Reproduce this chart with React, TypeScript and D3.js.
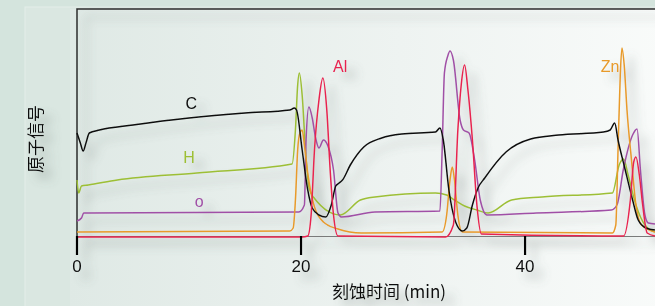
import React, { useRef, useEffect } from "react";
import * as d3 from "d3";

// etch time (min) vs. atom signal (arbitrary units, 0 = baseline)
const cSeries = [
  [0, 103], [0.3, 93], [0.55, 85], [0.8, 93], [1.1, 103], [2, 106], [5, 111], [10, 118], [15, 123],
  [19, 126], [19.4, 128], [19.6, 126], [20.1, 86], [20.6, 46], [21.0, 28], [21.6, 21], [22.2, 19],
  [22.7, 31], [23.1, 50], [23.4, 53], [23.7, 56], [24.4, 71], [25.6, 89], [27.2, 98], [29, 102],
  [32, 104], [32.4, 108], [32.7, 96], [33.2, 46], [33.8, 14], [34.4, 5], [34.8, 8], [35.3, 31],
  [35.8, 48], [36.4, 58], [38.3, 84], [40.5, 97], [43, 101], [47, 104], [47.6, 106], [48.0, 113],
  [48.3, 96], [48.9, 68], [49.6, 36], [50.1, 16], [50.8, 8], [51.6, 6],
];
const hSeries = [
  [0, 56], [0.15, 43], [0.4, 50], [1.0, 51], [3.6, 56], [10.7, 63], [19.2, 72], [19.5, 106],
  [19.7, 151], [19.85, 163], [20.1, 141], [20.4, 86], [20.7, 49], [21.1, 39], [23.5, 21], [25.3, 36],
  [26.6, 39], [32, 43], [33, 41], [33.7, 36], [34.6, 30], [35.7, 26], [36.7, 23], [38.8, 36],
  [41.5, 39], [47.8, 43], [48.4, 71], [48.8, 77], [49.2, 61], [49.9, 31], [50.7, 11], [51.6, 4],
];
const oSeries = [
  [0, 15], [0.4, 18], [0.6, 23], [1, 23], [19.8, 24], [20.3, 31], [20.45, 96], [20.7, 129],
  [21.0, 118], [21.3, 98], [21.6, 88], [22.0, 96], [22.4, 90], [22.9, 66], [23.3, 23], [23.6, 19],
  [26.6, 24], [32.4, 25], [32.6, 86], [32.8, 163], [33.1, 180], [33.3, 185], [33.6, 176], [34.2, 116],
  [34.5, 106], [35.0, 103], [35.5, 76], [36.0, 36], [36.6, 21], [41, 23], [47.7, 26], [48.2, 31],
  [48.8, 68], [49.6, 101], [50.0, 107], [50.3, 66], [50.7, 21], [51.0, 13], [51.6, 12],
];
const znSeries = [
  [0, 4], [19, 5], [19.3, 8], [19.5, 36], [19.7, 86], [19.9, 103], [20.1, 106], [20.3, 91],
  [20.6, 63], [21.1, 33], [22.0, 14], [23.3, 7], [25.4, 3], [32.6, 4], [33.0, 21], [33.3, 56],
  [33.5, 69], [33.7, 56], [34.0, 21], [34.4, 4], [47.8, 3], [48.1, 11], [48.3, 86], [48.5, 161],
  [48.65, 188], [48.85, 171], [49.1, 126], [49.5, 76], [49.9, 31], [50.4, 11], [51.6, 4],
];
const alSeries = [
  [0, -1], [20.1, -1], [20.6, 0], [20.9, 21], [21.2, 86], [21.6, 136], [21.95, 158], [22.3, 126],
  [22.6, 66], [22.9, 21], [23.3, 0], [32.9, -1], [33.6, 11], [34.0, 106], [34.3, 151], [34.6, 171],
  [34.9, 146], [35.3, 96], [35.7, 31], [36.1, 2], [48.8, 0], [49.4, 36], [49.7, 74], [49.9, 79],
  [50.2, 61], [50.5, 31], [50.9, 3], [51.6, 0],
];

const xTicks = [0, 20, 40];
const xTitle = "刻蚀时间 (min)";
const yTitle = "原子信号";

const series = [
  { name: "H", data: hSeries, color: "#9dbf36", label: [10, 73] },
  { name: "o", data: oSeries, color: "#a050a6", label: [10.9, 29] },
  { name: "Zn", data: znSeries, color: "#e89a2a", label: [47.6, 164] },
  { name: "C", data: cSeries, color: "#111111", label: [10.2, 127] },
  { name: "Al", data: alSeries, color: "#e8234f", label: [23.5, 164] },
];

const App = () => {
  const svgRef = useRef<SVGSVGElement>(null);

  useEffect(() => {
    const svg = d3.select(svgRef.current);
    svg.selectAll("*").remove();

    const W = 655, H = 306;
    const left = 77, right = 655, top = 9, bottom = 236;

    const x = d3.scaleLinear().domain([0, 51.6]).range([left, right]);
    const y = d3.scaleLinear().domain([0, 227]).range([bottom, top]);

    const defs = svg.append("defs");
    const grad = defs.append("linearGradient").attr("id", "bg").attr("x1", 0).attr("x2", 1);
    grad.append("stop").attr("offset", "0%").attr("stop-color", "#dfe9e5");
    grad.append("stop").attr("offset", "55%").attr("stop-color", "#eef3f1");
    grad.append("stop").attr("offset", "100%").attr("stop-color", "#f9fbfa");

    // soft grey drop shadow like the source figure
    const f = defs.append("filter").attr("id", "shadow")
      .attr("x", "-20%").attr("y", "-20%").attr("width", "140%").attr("height", "140%");
    f.append("feGaussianBlur").attr("in", "SourceAlpha").attr("stdDeviation", 5).attr("result", "b");
    f.append("feOffset").attr("in", "b").attr("dx", 9).attr("dy", 8).attr("result", "o");
    f.append("feFlood").attr("flood-color", "#6a7571").attr("flood-opacity", 0.45);
    f.append("feComposite").attr("in2", "o").attr("operator", "in").attr("result", "s");
    const m = f.append("feMerge");
    m.append("feMergeNode").attr("in", "s");
    m.append("feMergeNode").attr("in", "SourceGraphic");

    // background panels
    svg.append("rect").attr("width", W).attr("height", H).attr("fill", "#d4e4dd");
    svg.append("rect").attr("x", 25).attr("y", 7).attr("width", 640).attr("height", 310)
      .attr("fill", "#dae7e1").attr("stroke", "#e4eeea");
    svg.append("rect").attr("x", 70).attr("y", 9).attr("width", 600).attr("height", 300)
      .attr("fill", "url(#bg)");

    const g = svg.append("g").attr("filter", "url(#shadow)");

    // frame
    g.append("path")
      .attr("d", `M${left},${bottom}V${top}H${right}`)
      .attr("fill", "none").attr("stroke", "#2c2c2c").attr("stroke-width", 1.5);
    g.append("line")
      .attr("x1", left).attr("x2", right).attr("y1", bottom + 0.5).attr("y2", bottom + 0.5)
      .attr("stroke", "#7a7a7a").attr("stroke-width", 1);

    const line = d3.line<number[]>()
      .x(d => x(d[0]))
      .y(d => y(d[1]))
      .curve(d3.curveMonotoneX);

    series.forEach(s => {
      g.append("path")
        .datum(s.data)
        .attr("d", line)
        .attr("fill", "none")
        .attr("stroke", s.color)
        .attr("stroke-width", 1.5)
        .attr("stroke-linejoin", "round");
    });

    series.forEach(s => {
      g.append("text")
        .attr("x", x(s.label[0]))
        .attr("y", y(s.label[1]))
        .attr("text-anchor", "middle")
        .attr("fill", s.color)
        .style("font-family", "'Liberation Sans', Arial, sans-serif")
        .style("font-size", "16px")
        .text(s.name);
    });

    // ticks
    xTicks.forEach(t => {
      g.append("line")
        .attr("x1", x(t)).attr("x2", x(t)).attr("y1", bottom).attr("y2", bottom + 19)
        .attr("stroke", "#000").attr("stroke-width", 2.2);
      g.append("text")
        .attr("x", x(t)).attr("y", 272)
        .attr("text-anchor", "middle")
        .attr("fill", "#111")
        .style("font-family", "'Liberation Sans', Arial, sans-serif")
        .style("font-size", "17px")
        .text(t);
    });

    g.append("text")
      .attr("x", 332).attr("y", 298)
      .attr("fill", "#111")
      .style("font-family", "'Noto Sans CJK SC', sans-serif")
      .style("font-size", "17px")
      .text(xTitle);

    g.append("text")
      .attr("transform", "translate(42,139) rotate(-90)")
      .attr("text-anchor", "middle")
      .attr("fill", "#111")
      .style("font-family", "'Noto Sans CJK SC', sans-serif")
      .style("font-size", "17px")
      .text(yTitle);
  }, []);

  return (
    <svg
      ref={svgRef}
      width={655}
      height={306}
      style={{ position: "fixed", left: 0, top: 0, display: "block" }}
    />
  );
};

export default App;
